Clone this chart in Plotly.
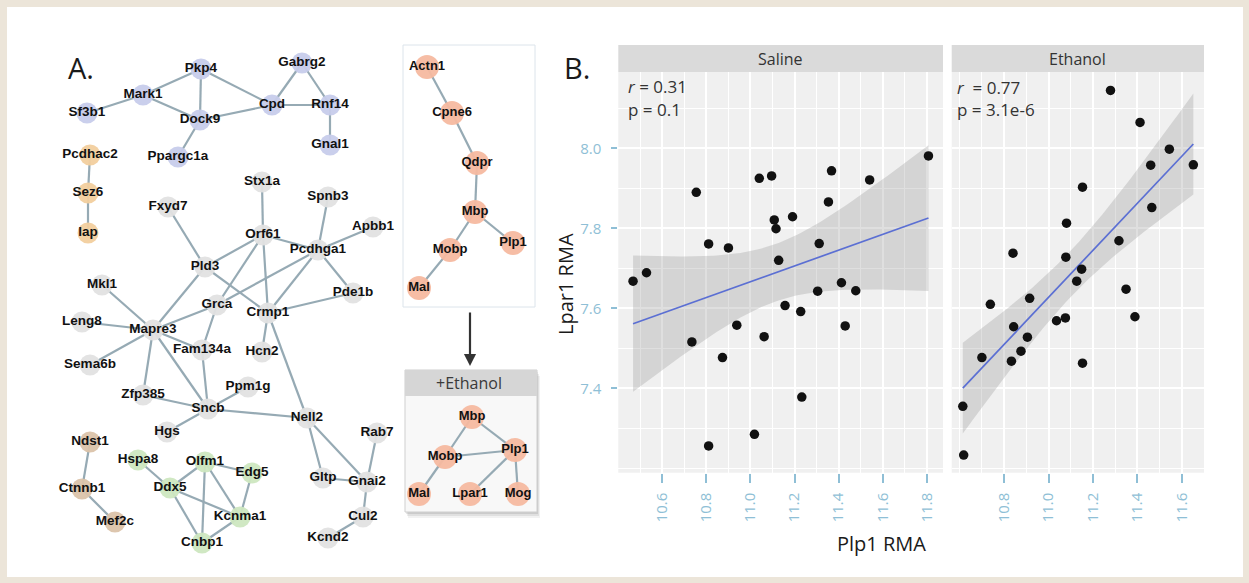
import numpy as np
import plotly.graph_objects as go

W, H = 1249, 583

# ---------------- Panel B data ----------------
saline_plp1 = [10.467, 10.528, 10.754, 10.81, 10.9, 11.04, 11.096, 11.108, 11.116, 11.191,
               11.128, 11.368, 11.354, 11.312, 11.541, 11.808, 11.413, 11.478, 11.305, 11.157,
               11.228, 10.938, 11.43, 10.734, 11.062, 10.873, 11.233, 11.018, 10.81]
saline_lpar1 = [7.668, 7.689, 7.89, 7.761, 7.751, 7.925, 7.931, 7.821, 7.799, 7.829,
                7.72, 7.944, 7.866, 7.762, 7.921, 7.981, 7.664, 7.644, 7.643, 7.607,
                7.592, 7.558, 7.556, 7.516, 7.529, 7.477, 7.378, 7.285, 7.256]
ethanol_plp1 = [11.279, 11.412, 11.544, 11.46, 11.652, 11.153, 11.465, 11.081, 11.317, 10.84,
                11.078, 11.149, 11.127, 11.349, 10.915, 10.738, 11.389, 11.036, 11.076, 10.843,
                10.905, 10.876, 10.7, 10.833, 11.153, 10.614, 10.618]
ethanol_lpar1 = [8.145, 8.065, 7.998, 7.958, 7.959, 7.903, 7.852, 7.813, 7.769, 7.738,
                 7.728, 7.698, 7.668, 7.648, 7.625, 7.61, 7.579, 7.569, 7.576, 7.554,
                 7.528, 7.493, 7.477, 7.468, 7.463, 7.355, 7.233]
saline_xticks = [10.6, 10.8, 11.0, 11.2, 11.4, 11.6, 11.8]
ethanol_xticks = [10.8, 11.0, 11.2, 11.4, 11.6]
lpar1_ticks = [7.4, 7.6, 7.8, 8.0]
facet_labels = ["Saline", "Ethanol"]
saline_stats = ["<i>r</i> = 0.31", "p = 0.1"]
ethanol_stats = ["<i>r</i>  = 0.77", "p = 3.1e-6"]
x_title = "Plp1 RMA"
y_title = "Lpar1 RMA"

# ---------------- Panel A data: network layouts (image pixel space) ----------------
main_names = ["Pkp4", "Gabrg2", "Mark1", "Sf3b1", "Cpd", "Rnf14", "Dock9", "Gnal1", "Ppargc1a",
              "Pcdhac2", "Sez6", "Iap",
              "Stx1a", "Spnb3", "Fxyd7", "Apbb1", "Orf61", "Pcdhga1", "Pld3", "Mkl1", "Pde1b",
              "Grca", "Crmp1", "Leng8", "Mapre3", "Fam134a", "Hcn2", "Sema6b", "Zfp385", "Ppm1g",
              "Sncb", "Nell2", "Hgs", "Rab7", "Gltp", "Gnai2", "Cul2", "Kcnd2",
              "Ndst1", "Ctnnb1", "Mef2c",
              "Hspa8", "Olfm1", "Edg5", "Ddx5", "Kcnma1", "Cnbp1"]
main_x = [201, 302, 143, 87, 272, 330, 200, 330, 178,
          90, 88, 88,
          262, 328, 168, 373, 263, 318, 205, 102, 353,
          217, 268, 82, 153, 202, 262, 90, 143, 248,
          208, 307, 167, 377, 323, 367, 363, 328,
          90, 82, 115,
          138, 205, 252, 170, 240, 202]
main_y = [69, 63, 95, 113, 105, 105, 120, 145, 157,
          155, 193, 233,
          182, 197, 207, 227, 235, 250, 267, 285, 293,
          305, 313, 322, 330, 350, 352, 365, 395, 387,
          409, 418, 432, 433, 478, 482, 517, 538,
          442, 489, 522,
          460, 462, 473, 488, 517, 543]
main_groups = (["blue"] * 9 + ["orange"] * 3 + ["gray"] * 26 + ["brown"] * 3 + ["green"] * 6)
main_edges = [("Sf3b1", "Mark1"), ("Mark1", "Pkp4"), ("Mark1", "Dock9"), ("Pkp4", "Dock9"),
              ("Pkp4", "Cpd"), ("Dock9", "Cpd"), ("Dock9", "Ppargc1a"), ("Cpd", "Gabrg2"),
              ("Gabrg2", "Rnf14"), ("Cpd", "Rnf14"), ("Rnf14", "Gnal1"),
              ("Pcdhac2", "Sez6"), ("Sez6", "Iap"),
              ("Fxyd7", "Pld3"), ("Stx1a", "Orf61"), ("Orf61", "Pcdhga1"), ("Spnb3", "Pcdhga1"),
              ("Apbb1", "Pcdhga1"), ("Pcdhga1", "Pde1b"), ("Orf61", "Pld3"), ("Orf61", "Crmp1"),
              ("Orf61", "Grca"), ("Pcdhga1", "Grca"), ("Pcdhga1", "Crmp1"), ("Pld3", "Crmp1"),
              ("Pld3", "Mapre3"), ("Crmp1", "Pde1b"),
              ("Mkl1", "Mapre3"), ("Leng8", "Mapre3"), ("Sema6b", "Mapre3"), ("Mapre3", "Zfp385"),
              ("Mapre3", "Sncb"), ("Mapre3", "Fam134a"), ("Mapre3", "Grca"), ("Grca", "Fam134a"),
              ("Fam134a", "Sncb"), ("Crmp1", "Hcn2"), ("Crmp1", "Nell2"), ("Zfp385", "Sncb"),
              ("Sncb", "Ppm1g"), ("Sncb", "Hgs"), ("Sncb", "Nell2"), ("Nell2", "Gltp"),
              ("Nell2", "Gnai2"), ("Gltp", "Gnai2"), ("Rab7", "Gnai2"), ("Gnai2", "Cul2"),
              ("Cul2", "Kcnd2"),
              ("Ndst1", "Ctnnb1"), ("Ctnnb1", "Mef2c"),
              ("Hspa8", "Ddx5"), ("Ddx5", "Olfm1"), ("Olfm1", "Edg5"), ("Olfm1", "Kcnma1"),
              ("Olfm1", "Cnbp1"), ("Ddx5", "Kcnma1"), ("Ddx5", "Cnbp1"), ("Edg5", "Kcnma1"),
              ("Kcnma1", "Cnbp1")]

base_names = ["Actn1", "Cpne6", "Qdpr", "Mbp", "Plp1", "Mobp", "Mal"]
base_x = [427, 452, 477, 475, 513, 450, 419]
base_y = [67, 113, 163, 212, 243, 250, 288]
base_edges = [("Actn1", "Cpne6"), ("Cpne6", "Qdpr"), ("Qdpr", "Mbp"), ("Mbp", "Mobp"),
              ("Mbp", "Plp1"), ("Mobp", "Mal")]

etoh_names = ["Mbp", "Plp1", "Mobp", "Mal", "Lpar1", "Mog"]
etoh_x = [472, 515, 445, 419, 470, 518]
etoh_y = [417, 450, 457, 494, 494, 494]
etoh_edges = [("Mbp", "Mobp"), ("Mbp", "Plp1"), ("Mobp", "Plp1"), ("Mobp", "Mal"),
              ("Plp1", "Lpar1"), ("Plp1", "Mog")]
etoh_title = "+Ethanol"

group_colors = {"blue": "#c7cceb", "orange": "#f2cf9e", "gray": "#e2e2e2",
                "brown": "#dbc3aa", "green": "#cde7c0", "salmon": "#f5b9a0"}

# ---------------- styles ----------------
SANS = "Open Sans, Liberation Sans, sans-serif"
BOLD = "Liberation Sans, Arial, sans-serif"
TICK_BLUE = "#8fbfd6"
EDGE = "#96aab4"
PANEL_BG = "#f0f0f0"
STRIP_BG = "#dadada"


def fx(p):
    return p / W


def fy(p):
    return 1 - p / H


def t975(df):
    z = 1.959964
    return z + (z ** 3 + z) / (4 * df) + (5 * z ** 5 + 16 * z ** 3 + 3 * z) / (96 * df ** 2)


def lm_fit(x, y, n=100):
    x = np.asarray(x, float)
    y = np.asarray(y, float)
    b1, b0 = np.polyfit(x, y, 1)
    xs = np.linspace(x.min(), x.max(), n)
    yh = b0 + b1 * xs
    res = y - (b0 + b1 * x)
    s = np.sqrt(np.sum(res ** 2) / (len(x) - 2))
    se = s * np.sqrt(1 / len(x) + (xs - x.mean()) ** 2 / np.sum((x - x.mean()) ** 2))
    t = t975(len(x) - 2)
    return xs, yh, yh - t * se, yh + t * se


fig = go.Figure()

# ---- scatter panels ----
for xd, yd, xa, ya in [(saline_plp1, saline_lpar1, "x", "y"),
                       (ethanol_plp1, ethanol_lpar1, "x2", "y2")]:
    xs, yh, lo, hi = lm_fit(xd, yd)
    fig.add_trace(go.Scatter(x=list(xs) + list(xs[::-1]), y=list(hi) + list(lo[::-1]),
                             fill="toself", fillcolor="rgba(140,140,140,0.28)",
                             line=dict(width=0), mode="lines", hoverinfo="skip",
                             showlegend=False, xaxis=xa, yaxis=ya))
    fig.add_trace(go.Scatter(x=xs, y=yh, mode="lines", line=dict(color="#5b6fd3", width=1.7),
                             hoverinfo="skip", showlegend=False, xaxis=xa, yaxis=ya))
    fig.add_trace(go.Scatter(x=xd, y=yd, mode="markers",
                             marker=dict(size=9.5, color="#111111"),
                             showlegend=False, xaxis=xa, yaxis=ya))


# ---- networks (pixel canvas x3/y3) ----
def add_network(names, xs, ys, groups, edges, size, fsize):
    pos = {n: (x, y) for n, x, y in zip(names, xs, ys)}
    ex, ey = [], []
    for a, b in edges:
        ex += [pos[a][0], pos[b][0], None]
        ey += [pos[a][1], pos[b][1], None]
    fig.add_trace(go.Scatter(x=ex, y=ey, mode="lines", line=dict(color=EDGE, width=2.2),
                             hoverinfo="skip", showlegend=False, xaxis="x3", yaxis="y3"))
    for g in dict.fromkeys(groups):
        idx = [i for i, gg in enumerate(groups) if gg == g]
        fig.add_trace(go.Scatter(x=[xs[i] for i in idx], y=[ys[i] for i in idx], mode="markers",
                                 marker=dict(size=size, color=group_colors[g], opacity=0.95),
                                 hoverinfo="skip", showlegend=False, xaxis="x3", yaxis="y3"))
    fig.add_trace(go.Scatter(x=xs, y=ys, mode="text", text=["<b>%s</b>" % n for n in names],
                             textposition="middle center",
                             textfont=dict(family=BOLD, size=fsize, color="#111111"),
                             hoverinfo="skip", showlegend=False, xaxis="x3", yaxis="y3"))


shapes = []
# white card on beige background
shapes.append(dict(type="rect", xref="paper", yref="paper", x0=fx(7), x1=fx(1243),
                   y0=fy(577), y1=fy(7), fillcolor="white", line=dict(width=0), layer="below"))
# network boxes
shapes.append(dict(type="rect", xref="paper", yref="paper", x0=fx(403), x1=fx(535),
                   y0=fy(307), y1=fy(45), fillcolor="white",
                   line=dict(color="#dce4eb", width=1), layer="below"))
for off, a in [(6, 0.05), (4, 0.07), (2, 0.09)]:
    shapes.append(dict(type="rect", xref="paper", yref="paper", x0=fx(405 + off * 0.5),
                       x1=fx(537 + off * 0.5), y0=fy(512 + off), y1=fy(370 + off),
                       fillcolor="rgba(0,0,0,%.2f)" % a, line=dict(width=0), layer="below"))
shapes.append(dict(type="rect", xref="paper", yref="paper", x0=fx(405), x1=fx(537),
                   y0=fy(512), y1=fy(370), fillcolor="#f8f8f8",
                   line=dict(color="#cfcfcf", width=1), layer="below"))
shapes.append(dict(type="rect", xref="paper", yref="paper", x0=fx(405), x1=fx(537),
                   y0=fy(396), y1=fy(370), fillcolor="#d6d6d6",
                   line=dict(width=0), layer="below"))

add_network(main_names, main_x, main_y, main_groups, main_edges, 21, 13.5)
add_network(base_names, base_x, base_y, ["salmon"] * len(base_names), base_edges, 24, 13)
add_network(etoh_names, etoh_x, etoh_y, ["salmon"] * len(etoh_names), etoh_edges, 24, 13)

# ---- scatter panel geometry ----
SAL = (618.3, 943.0)
ETH = (951.7, 1204.0)
PT, PB = 72.0, 472.7
STRIP_T = 45.0
for (l, r) in [SAL, ETH]:
    shapes.append(dict(type="rect", xref="paper", yref="paper", x0=fx(l), x1=fx(r),
                       y0=fy(PB), y1=fy(PT), fillcolor=PANEL_BG, line=dict(width=0),
                       layer="below"))
    shapes.append(dict(type="rect", xref="paper", yref="paper", x0=fx(l), x1=fx(r),
                       y0=fy(PT), y1=fy(STRIP_T), fillcolor=STRIP_BG, line=dict(width=0),
                       layer="below"))

annotations = []


def txt(x, y, s, size, color="#333333", xanchor="center", angle=0, family=SANS):
    annotations.append(dict(xref="paper", yref="paper", x=fx(x), y=fy(y), text=s,
                            showarrow=False, xanchor=xanchor, yanchor="middle",
                            textangle=angle, font=dict(family=family, size=size, color=color)))


txt(66, 67, "A.", 29, "#1a1a1a", xanchor="left")
txt(562, 67, "B.", 29, "#1a1a1a", xanchor="left")
txt((SAL[0] + SAL[1]) / 2, 59, facet_labels[0], 16)
txt((ETH[0] + ETH[1]) / 2, 59, facet_labels[1], 16)
txt(626, 86, saline_stats[0], 17, xanchor="left")
txt(626, 110, saline_stats[1], 17, xanchor="left")
txt(955, 87, ethanol_stats[0], 17, xanchor="left")
txt(955, 109, ethanol_stats[1], 17, xanchor="left")
txt(565, 284, y_title, 20, "#1a1a1a", angle=-90)
txt(881, 543, x_title, 20, "#1a1a1a")
txt(469, 383, etoh_title, 16, "#3a3a3a")

# arrow between network boxes
annotations.append(dict(xref="x3", yref="y3", axref="x3", ayref="y3", x=470, y=366,
                        ax=470, ay=311, text="", showarrow=True, arrowhead=2,
                        arrowsize=1.1, arrowwidth=2.2, arrowcolor="#333333"))

x_common = dict(ticks="outside", ticklen=9, tickwidth=1.5, tickcolor=TICK_BLUE, tickangle=-90,
                tickfont=dict(family=SANS, size=15, color=TICK_BLUE), showgrid=True,
                gridcolor="white", gridwidth=1.5, zeroline=False, showline=False,
                tickmode="array", ticklabelstandoff=4)

fig.update_layout(
    width=W, height=H, autosize=False,
    margin=dict(l=0, r=0, t=0, b=0),
    paper_bgcolor="#ece5d9", plot_bgcolor="rgba(0,0,0,0)",
    showlegend=False,
    xaxis=dict(domain=[fx(SAL[0]), fx(SAL[1])], range=[10.400, 11.874], anchor="y",
               tickvals=saline_xticks, ticktext=["%.1f" % v for v in saline_xticks],
               minor=dict(tickvals=[10.5, 10.7, 10.9, 11.1, 11.3, 11.5, 11.7], showgrid=True,
                          gridcolor="white", gridwidth=0.7, ticks=""),
               **x_common),
    xaxis2=dict(domain=[fx(ETH[0]), fx(ETH[1])], range=[10.564, 11.70], anchor="y2",
                tickvals=ethanol_xticks, ticktext=["%.1f" % v for v in ethanol_xticks],
                minor=dict(tickvals=[10.6, 10.7, 10.9, 11.1, 11.3, 11.5], showgrid=True,
                           gridcolor="white", gridwidth=0.7, ticks=""),
                **x_common),
    yaxis=dict(domain=[fy(PB), fy(PT)], range=[7.189, 8.191], anchor="x",
               tickmode="array", tickvals=lpar1_ticks, ticktext=["%.1f" % v for v in lpar1_ticks],
               ticks="outside", ticklen=6, tickwidth=1.5, tickcolor=TICK_BLUE,
               tickfont=dict(family=SANS, size=15, color=TICK_BLUE), ticklabelstandoff=7,
               showgrid=True, gridcolor="white", gridwidth=1.5, zeroline=False, showline=False,
               minor=dict(tickvals=[7.2, 7.3, 7.5, 7.7, 7.9, 8.1], showgrid=True,
                          gridcolor="white", gridwidth=0.7, ticks="")),
    yaxis2=dict(domain=[fy(PB), fy(PT)], range=[7.189, 8.191], anchor="x2", matches="y",
                tickmode="array", tickvals=lpar1_ticks, showticklabels=False, ticks="",
                showgrid=True, gridcolor="white", gridwidth=1.5, zeroline=False, showline=False,
                minor=dict(tickvals=[7.2, 7.3, 7.5, 7.7, 7.9, 8.1], showgrid=True,
                           gridcolor="white", gridwidth=0.7, ticks="")),
    xaxis3=dict(domain=[0, 1], range=[0, W], visible=False, anchor="y3", fixedrange=True),
    yaxis3=dict(domain=[0, 1], range=[H, 0], visible=False, anchor="x3", fixedrange=True),
    shapes=shapes,
    annotations=annotations,
)

fig.write_html("out.html", config={"displayModeBar": False},
               post_script="document.body.style.margin='0';")
